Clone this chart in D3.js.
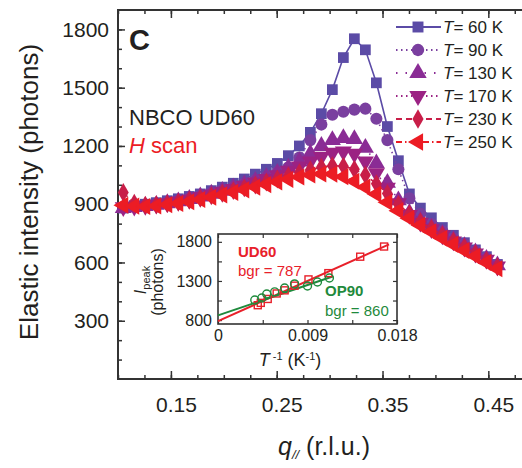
<!DOCTYPE html>
<html>
<head>
<meta charset="utf-8">
<script src="https://cdn.jsdelivr.net/npm/d3@7"></script>
<style>
body { margin: 0; background: #fff; }
svg { display: block; font-family: "Liberation Sans", Arial, sans-serif; }
</style>
</head>
<body>
<script>
// main panel data: elastic intensity vs q (H scan)
var qValues = [0.105, 0.1154, 0.1258, 0.1362, 0.1466, 0.157, 0.1674, 0.1778, 0.1882, 0.1986,
  0.209, 0.2194, 0.2298, 0.2402, 0.2506, 0.261, 0.2714, 0.2818, 0.2922, 0.3026,
  0.313, 0.3234, 0.3338, 0.3442, 0.3546, 0.365, 0.3754, 0.3858, 0.3962, 0.4066,
  0.417, 0.4274, 0.4378, 0.4482, 0.4586];

var int60 = [880, 893, 900, 908, 918, 928, 940, 953, 970, 988, 1008, 1030, 1055, 1080, 1110, 1150, 1200, 1270, 1366, 1490,
  1655, 1752, 1695, 1525, 1300, 1124, 953, 880, 830, 780, 740, 702, 665, 630, 590];
var int90 = [885, 888, 893, 900, 908, 918, 930, 943, 957, 972, 988, 1005, 1023, 1043, 1065, 1090, 1140, 1230, 1310, 1361,
  1376, 1387, 1392, 1340, 1230, 1080, 930, 850, 798, 760, 725, 692, 658, 624, 588];
var int130 = [880, 885, 890, 897, 905, 915, 927, 940, 954, 969, 985, 1002, 1020, 1040, 1062, 1088, 1120, 1160, 1200, 1230,
  1240, 1235, 1190, 1110, 1010, 920, 855, 815, 780, 748, 716, 684, 652, 618, 585];
var int170 = [885, 888, 892, 898, 905, 914, 925, 937, 950, 964, 979, 995, 1012, 1030, 1050, 1072, 1095, 1120, 1145, 1165,
  1172, 1160, 1120, 1060, 985, 905, 845, 805, 772, 740, 708, 677, 646, 614, 580];
var int230 = [960, 905, 895, 897, 903, 910, 920, 931, 943, 956, 970, 984, 999, 1014, 1030, 1046, 1062, 1077, 1090, 1098,
  1096, 1080, 1050, 1005, 955, 900, 850, 810, 775, 742, 710, 678, 646, 612, 578];
var int250 = [895, 890, 888, 891, 897, 904, 913, 924, 936, 948, 961, 974, 988, 1001, 1015, 1028, 1040, 1050, 1056, 1055,
  1042, 1018, 988, 952, 910, 866, 828, 792, 758, 725, 693, 662, 632, 600, 568];

var tempLabels = ["60", "90", "130", "170", "230", "250"];
var seriesColors = ["#5b4ba6", "#7a3f9f", "#8a2c95", "#9b2283", "#c81e48", "#ec1c24"];
var seriesDash = [null, "1.5,3.5", "1.5,8", "1.5,3.5", "6,4", "6,3,1.5,3"];
var seriesSymbols = ["square", "circle", "triangle", "triangleDown", "diamond", "triangleLeft"];
var allSeries = [int60, int90, int130, int170, int230, int250];

var xTickLabels = [0.15, 0.25, 0.35, 0.45];
var yTickLabels = [300, 600, 900, 1200, 1500, 1800];

// inset data: peak intensity vs 1/T
var ud60InvT = [0.0167, 0.0143, 0.0111, 0.0091, 0.0077, 0.0067, 0.0059, 0.0050, 0.0043, 0.0040];
var ud60Peak = [1740, 1610, 1400, 1320, 1240, 1180, 1140, 1070, 1020, 990];
var op90InvT = [0.0112, 0.0100, 0.0090, 0.0077, 0.0067, 0.0057, 0.0049, 0.0044, 0.0037];
var op90Peak = [1338, 1287, 1236, 1262, 1210, 1160, 1133, 1082, 1056];
var ud60Fit = [[0, 787], [0.0172, 1767]];
var op90Fit = [[0, 860], [0.0116, 1360]];
var insetXTicks = [0, 0.009, 0.018];
var insetYTicks = [800, 1300, 1800];

var width = 522, height = 468;
var textColor = "#231f20";

var svg = d3.select("body").append("svg")
  .attr("width", width)
  .attr("height", height);

// scales
var x = d3.scaleLinear().domain([0.1, 0.4875]).range([118, 528]);
var y = d3.scaleLinear().domain([0, 1900]).range([379, 10]);

function symbolPath(name, size) {
  if (name === "square") return d3.symbol().type(d3.symbolSquare).size(size)();
  if (name === "circle") return d3.symbol().type(d3.symbolCircle).size(size)();
  if (name === "diamond") return d3.symbol().type(d3.symbolDiamond).size(size * 0.9)();
  return d3.symbol().type(d3.symbolTriangle).size(size * 1.1)();
}
function symbolRotate(name) {
  if (name === "triangleDown") return 180;
  if (name === "triangleLeft") return -90;
  return 0;
}

// axes: inward ticks, minor and major
var minorX = d3.range(0.1, 0.49, 0.025);
var minorY = d3.range(100, 1900, 100);

svg.append("g")
  .attr("transform", "translate(0,379)")
  .call(d3.axisBottom(x).tickValues(minorX).tickSize(-4).tickFormat(""))
  .call(g => g.select(".domain").remove());
svg.append("g")
  .attr("transform", "translate(0,379)")
  .call(d3.axisBottom(x).tickValues(xTickLabels).tickSize(-8).tickPadding(18).tickFormat(d3.format(".2f")))
  .call(g => g.select(".domain").remove())
  .call(g => g.selectAll("text").attr("font-size", 21).attr("fill", textColor).attr("dx", 5));
svg.append("g")
  .attr("transform", "translate(0,10)")
  .call(d3.axisTop(x).tickValues(minorX).tickSize(-4).tickFormat(""))
  .call(g => g.select(".domain").remove());
svg.append("g")
  .attr("transform", "translate(0,10)")
  .call(d3.axisTop(x).tickValues(xTickLabels).tickSize(-8).tickFormat(""))
  .call(g => g.select(".domain").remove());

svg.append("g")
  .attr("transform", "translate(118,0)")
  .call(d3.axisLeft(y).tickValues(minorY).tickSize(-4).tickFormat(""))
  .call(g => g.select(".domain").remove());
svg.append("g")
  .attr("transform", "translate(118,0)")
  .call(d3.axisLeft(y).tickValues(yTickLabels).tickSize(-7).tickPadding(9).tickFormat(d3.format("d")))
  .call(g => g.select(".domain").remove())
  .call(g => g.selectAll("text").attr("font-size", 21).attr("fill", textColor));

svg.selectAll(".tick line").attr("stroke", "#333").attr("stroke-width", 1.5);

// frame
svg.append("path")
  .attr("d", "M" + x.range()[1] + ",10H118V379H" + x.range()[1])
  .attr("fill", "none")
  .attr("stroke", "#333")
  .attr("stroke-width", 2);

// axis titles
svg.append("text")
  .attr("transform", "translate(38,192) rotate(-90)")
  .attr("text-anchor", "middle")
  .attr("font-size", 26)
  .attr("fill", textColor)
  .text("Elastic intensity (photons)");

var xt = svg.append("text")
  .attr("x", 278).attr("y", 455)
  .attr("font-size", 25)
  .attr("fill", textColor);
xt.append("tspan").attr("font-style", "italic").text("q");
xt.append("tspan").attr("font-style", "italic").attr("font-size", 13).attr("dy", 4).text("//");
xt.append("tspan").attr("dy", -4).text(" (r.l.u.)");

// panel letter and sample labels
svg.append("text").attr("x", 129).attr("y", 50)
  .attr("font-size", 29).attr("font-weight", "bold").attr("fill", textColor).text("C");
svg.append("text").attr("x", 129).attr("y", 125)
  .attr("font-size", 22).attr("fill", textColor).text("NBCO UD60");
var hs = svg.append("text").attr("x", 129).attr("y", 153)
  .attr("font-size", 22).attr("fill", "#ec1c24");
hs.append("tspan").attr("font-style", "italic").text("H");
hs.append("tspan").text(" scan");

// data series
var line = d3.line().x((d, i) => x(qValues[i])).y(d => y(d));

allSeries.forEach(function (vals, k) {
  var g = svg.append("g");
  g.append("path")
    .datum(vals)
    .attr("d", line)
    .attr("fill", "none")
    .attr("stroke", seriesColors[k])
    .attr("stroke-width", 1.6)
    .attr("stroke-dasharray", seriesDash[k]);
  g.selectAll("path.pt")
    .data(vals)
    .join("path")
    .attr("class", "pt")
    .attr("d", symbolPath(seriesSymbols[k], 115))
    .attr("transform", (d, i) => "translate(" + x(qValues[i]) + "," + y(d) + ") rotate(" + symbolRotate(seriesSymbols[k]) + ")")
    .attr("fill", seriesColors[k]);
});

// legend
var legend = svg.append("g");
tempLabels.forEach(function (t, k) {
  var ly = 27 + k * 23;
  legend.append("line")
    .attr("x1", 396).attr("x2", 441).attr("y1", ly).attr("y2", ly)
    .attr("stroke", seriesColors[k])
    .attr("stroke-width", 1.8)
    .attr("stroke-dasharray", seriesDash[k]);
  legend.append("path")
    .attr("d", symbolPath(seriesSymbols[k], 120))
    .attr("transform", "translate(418," + ly + ") rotate(" + symbolRotate(seriesSymbols[k]) + ")")
    .attr("fill", seriesColors[k]);
  var tx = legend.append("text")
    .attr("x", 443).attr("y", ly + 6)
    .attr("font-size", 17)
    .attr("fill", textColor);
  tx.append("tspan").attr("font-style", "italic").text("T");
  tx.append("tspan").text("= " + t + " K");
});

// inset
var ix = d3.scaleLinear().domain([0, 0.018]).range([218, 397]);
var iy = d3.scaleLinear().domain([750, 1900]).range([324, 234]);
var red = "#e8202a", green = "#1f8a3c";

var inset = svg.append("g");
inset.append("rect")
  .attr("x", 218).attr("y", 234).attr("width", 179).attr("height", 90)
  .attr("fill", "#fff").attr("stroke", "#333").attr("stroke-width", 1.6);

inset.append("g").attr("transform", "translate(0,324)")
  .call(d3.axisBottom(ix).tickValues(d3.range(0, 0.0181, 0.0045)).tickSize(-4).tickFormat(""))
  .call(g => g.select(".domain").remove());
inset.append("g").attr("transform", "translate(0,324)")
  .call(d3.axisBottom(ix).tickValues(insetXTicks).tickSize(0).tickPadding(6).tickFormat(d => d === 0 ? "0" : d3.format(".3f")(d)))
  .call(g => g.select(".domain").remove())
  .call(g => g.selectAll("text").attr("font-size", 16).attr("fill", textColor));
inset.append("g").attr("transform", "translate(0,234)")
  .call(d3.axisTop(ix).tickValues(d3.range(0, 0.0181, 0.0045)).tickSize(-4).tickFormat(""))
  .call(g => g.select(".domain").remove());
inset.append("g").attr("transform", "translate(218,0)")
  .call(d3.axisLeft(iy).tickValues([800, 1050, 1300, 1550, 1800]).tickSize(-4).tickPadding(6)
    .tickFormat(d => insetYTicks.indexOf(d) >= 0 ? d : ""))
  .call(g => g.select(".domain").remove())
  .call(g => g.selectAll("text").attr("font-size", 16).attr("fill", textColor));
inset.append("g").attr("transform", "translate(397,0)")
  .call(d3.axisRight(iy).tickValues([800, 1050, 1300, 1550, 1800]).tickSize(-4).tickFormat(""))
  .call(g => g.select(".domain").remove());
inset.selectAll(".tick line").attr("stroke", "#333").attr("stroke-width", 1.2);

var fitLine = d3.line().x(d => ix(d[0])).y(d => iy(d[1]));
inset.append("path").datum(ud60Fit).attr("d", fitLine)
  .attr("stroke", red).attr("stroke-width", 2).attr("fill", "none");
inset.append("path").datum(op90Fit).attr("d", fitLine)
  .attr("stroke", green).attr("stroke-width", 2).attr("fill", "none");

inset.selectAll("rect.ud")
  .data(ud60Peak)
  .join("rect")
  .attr("class", "ud")
  .attr("x", (d, i) => ix(ud60InvT[i]) - 3.5)
  .attr("y", d => iy(d) - 3.5)
  .attr("width", 7).attr("height", 7)
  .attr("fill", "none").attr("stroke", red).attr("stroke-width", 1.4);
inset.selectAll("circle.op")
  .data(op90Peak)
  .join("circle")
  .attr("class", "op")
  .attr("cx", (d, i) => ix(op90InvT[i]))
  .attr("cy", d => iy(d))
  .attr("r", 4)
  .attr("fill", "none").attr("stroke", green).attr("stroke-width", 1.4);

inset.append("text").attr("x", 238).attr("y", 257)
  .attr("font-size", 15).attr("font-weight", "bold").attr("fill", red).text("UD60");
inset.append("text").attr("x", 238).attr("y", 276)
  .attr("font-size", 15).attr("fill", red).text("bgr = 787");
inset.append("text").attr("x", 325).attr("y", 296)
  .attr("font-size", 15).attr("font-weight", "bold").attr("fill", green).text("OP90");
inset.append("text").attr("x", 325).attr("y", 316)
  .attr("font-size", 15).attr("fill", green).text("bgr = 860");

// inset axis titles
var iyl = inset.append("text")
  .attr("transform", "translate(146,280) rotate(-90)")
  .attr("text-anchor", "middle")
  .attr("font-size", 16)
  .attr("fill", textColor);
iyl.append("tspan").attr("font-style", "italic").text("I");
iyl.append("tspan").attr("font-size", 11).attr("dy", 4).text("peak");
inset.append("text")
  .attr("transform", "translate(163,282) rotate(-90)")
  .attr("text-anchor", "middle")
  .attr("font-size", 16)
  .attr("fill", textColor)
  .text("(photons)");

var ixl = inset.append("text")
  .attr("x", 290).attr("y", 366)
  .attr("text-anchor", "middle")
  .attr("font-size", 18)
  .attr("fill", textColor);
ixl.append("tspan").attr("font-style", "italic").text("T");
ixl.append("tspan").attr("font-size", 11).attr("dy", -6).text(" -1");
ixl.append("tspan").attr("dy", 6).text(" (K");
ixl.append("tspan").attr("font-size", 11).attr("dy", -6).text("-1");
ixl.append("tspan").attr("dy", 6).text(")");
</script>
</body>
</html>
